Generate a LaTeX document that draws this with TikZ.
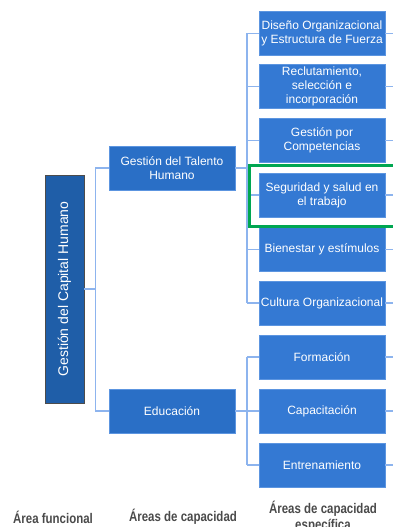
\documentclass[tikz,border=0pt]{standalone}
\usepackage{fontspec}
\setmainfont{Liberation Sans}
\newfontfamily\narrowbf[FakeStretch=0.82]{Liberation Sans Bold}
\definecolor{rblue}{HTML}{3479D3}
\definecolor{rborder}{HTML}{5C95E0}
\definecolor{mblue}{HTML}{2A6FC6}
\definecolor{dblue}{HTML}{1F5EA8}
\definecolor{conncol}{HTML}{8DB4EE}
\definecolor{gframe}{HTML}{00A651}
\definecolor{lblgray}{HTML}{4A4A4A}
\tikzset{
  rbox/.style={draw=rborder, line width=0.8pt, fill=rblue, text=white, minimum width=126pt, minimum height=44pt, inner xsep=1pt, inner ysep=1pt, align=center, font=\fontsize{12}{14}\selectfont},
  midbox/.style={rbox, fill=mblue},
  mainbox/.style={draw=black!70, line width=0.8pt, fill=dblue, text=white, minimum width=39pt, minimum height=228pt, inner sep=1pt},
  conn/.style={draw=conncol, line width=1.2pt},
  lbl/.style={text=lblgray, align=center, font=\narrowbf\fontsize{14}{16}\selectfont, inner sep=0pt}
}
\begin{document}
\begin{tikzpicture}[x=1pt,y=-1pt]
\useasboundingbox (0,0) rectangle (393,527);
% main
\node[mainbox] (main) at (64.5,289) {};
\node[rotate=90, text=white, font=\fontsize{14}{16}\selectfont] (maintxt) at (64.5,289) {Gestión del Capital Humano};
% mid
\node[midbox] (gth) at (172,168) {Gestión del Talento\\Humano};
\node[midbox] (edu) at (172,411) {Educación};
% right
\node[rbox] (r1) at (322,33.5) {Diseño Organizacional\\y Estructura de Fuerza};
\node[rbox] (r2) at (322,86.5) {Reclutamiento,\\selección e\\incorporación};
\node[rbox] (r3) at (322,140.5) {Gestión por\\Competencias};
\node[rbox] (r4) at (322,195) {Seguridad y salud en\\el trabajo};
\node[rbox] (r5) at (322,249.5) {Bienestar y estímulos};
\node[rbox] (r6) at (322,303) {Cultura Organizacional};
\node[rbox] (r7) at (322,357) {Formación};
\node[rbox] (r8) at (322,411) {Capacitación};
\node[rbox] (r9) at (322,465) {Entrenamiento};
% connectors main -> mid
\coordinate (busA) at (96,289);
\draw[conn] (main.east) -- (busA);
\draw[conn] (gth.west) -- ++(-13,0) coordinate (ga) -- (ga |- edu.west) -- (edu.west);
% connectors mid -> right
\coordinate (busB) at (247,0);
\draw[conn] (gth.east) -- (gth.east -| busB);
\draw[conn] (edu.east) -- (edu.east -| busB);
\draw[conn] (r1.west -| busB) -- (r6.west -| busB);
\draw[conn] (r7.west -| busB) -- (r9.west -| busB);
\foreach \n in {r1,r2,r3,r4,r5,r6,r7,r8,r9}{
  \draw[conn] (\n.west) -- (\n.west -| busB);
  \draw[conn] (\n.east) -- ++(12,0);
}
% highlight
\node[draw=gframe, line width=3pt, minimum width=150pt, minimum height=61pt, inner sep=0pt] (hl) at (324,195.5) {};
% labels
\node[lbl] (l1) at (53,517) {Área funcional};
\node[lbl] (l2) at (183,517) {Áreas de capacidad};
\node[lbl, anchor=north] (l3) at (323,501) {Áreas de capacidad\\específica};
\end{tikzpicture}
\end{document}
